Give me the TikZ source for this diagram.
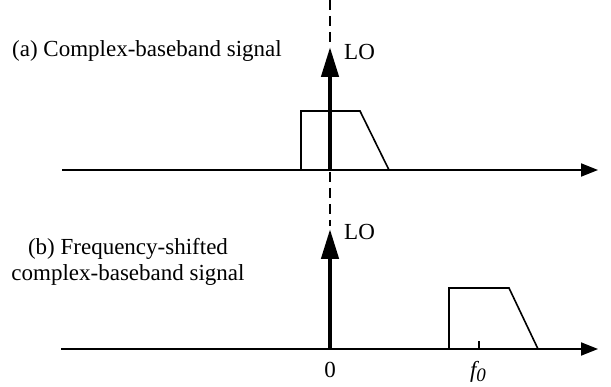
\documentclass[tikz,border=0pt]{standalone}
\usepackage{fontspec}
\setmainfont{Liberation Serif}
\usetikzlibrary{arrows.meta}
\begin{document}
\begin{tikzpicture}[x=1pt,y=-1pt,
  axis/.style={line width=2pt,-{Triangle[length=17pt,width=13pt]}},
  loarrow/.style={line width=4.5pt,-{Triangle[length=30pt,width=17pt]}},
  spectrum/.style={line width=1.6pt,line join=miter},
  dashline/.style={line width=1.5pt,dash pattern=on 10pt off 6pt},
  lbl/.style={font=\fontsize{23}{27}\selectfont,inner sep=0pt}]
\useasboundingbox (0,0) rectangle (611,387);
% coordinates
\coordinate (aS) at (62,170);
\coordinate (aE) at (598,170);
\coordinate (bS) at (61,349);
\coordinate (bE) at (598,349);
\coordinate (a0) at (330,170);
\coordinate (b0) at (330,349);
\coordinate (aTip) at (330,47);
\coordinate (bTip) at (330,229);
\coordinate (dTop) at (330,0);
\coordinate (dA) at (330,42);
\coordinate (dB1) at (330,172);
\coordinate (dB2) at (330,226);
\coordinate (f0b) at (479,349);
\coordinate (f0t) at (479,341);
% dashed line
\draw[dashline] (dTop) -- (dA);
\draw[dashline] (dB1) -- (dB2);
% axes
\draw[axis] (aS) -- (aE);
\draw[axis] (bS) -- (bE);
% spectra
\draw[spectrum] (301,170) -- (301,111) -- (360,111) -- (389,170);
\draw[spectrum] (449,349) -- (449,288) -- (509,288) -- (538,349);
\draw[line width=1.6pt] (f0b) -- (f0t);
% LO arrows
\draw[loarrow] (a0) -- (aTip);
\draw[loarrow] (b0) -- (bTip);
% labels
\node[lbl,anchor=base west] (ta) at (12,57) {(a) Complex-baseband signal};
\node[lbl,anchor=base] (tb1) at (128,255) {(b) Frequency-shifted};
\node[lbl,anchor=base] (tb2) at (128,281) {complex-baseband signal};
\node[lbl,anchor=base west] (loa) at (344,60) {LO};
\node[lbl,anchor=base west] (lob) at (344,240) {LO};
\node[lbl,anchor=base] (zero) at (330,378) {0};
\node[lbl,anchor=base] (f0) at (478,378) {\itshape f\raisebox{-0.3ex}{\fontsize{19}{22}\selectfont 0}};
\end{tikzpicture}
\end{document}
